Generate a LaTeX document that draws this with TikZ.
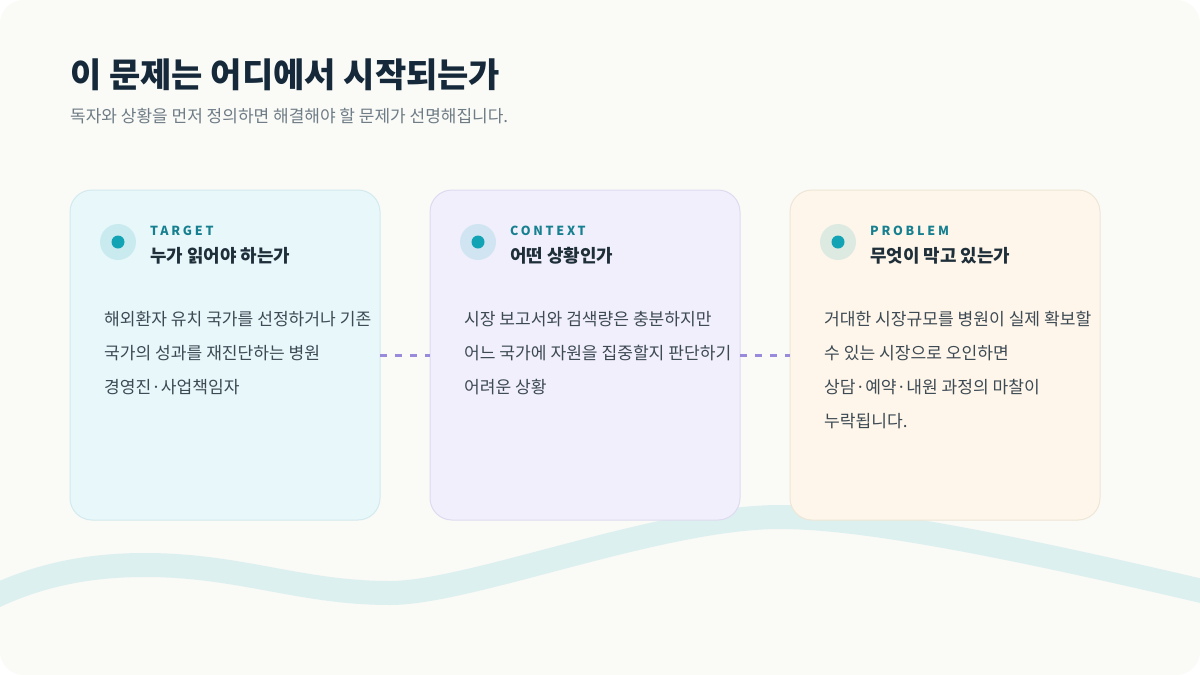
\documentclass[tikz,border=0pt]{standalone}
\usepackage{fontspec}
\setmainfont{Noto Sans CJK KR}
\definecolor{pagebg}{HTML}{FAFAF6}
\definecolor{wavec}{HTML}{DCF0F0}
\definecolor{titlec}{HTML}{15293A}
\definecolor{subc}{HTML}{6E7C86}
\definecolor{tealc}{HTML}{12A4B4}
\definecolor{lblc}{HTML}{168090}
\definecolor{headc}{HTML}{1F2F3A}
\definecolor{bodyc}{HTML}{3D4A54}
\definecolor{connc}{HTML}{9A8ADB}
\definecolor{fillA}{HTML}{E8F7FA}
\definecolor{lineA}{HTML}{D3EAEE}
\definecolor{fillB}{HTML}{F1EFFC}
\definecolor{lineB}{HTML}{DEDBF0}
\definecolor{fillC}{HTML}{FEF6EA}
\definecolor{lineC}{HTML}{EEE6D6}
\tikzset{
  cardbox/.style={draw, line width=1pt, rounded corners=22pt, minimum width=310pt, minimum height=330pt, inner sep=0pt, outer sep=0pt},
  halo/.style={circle, fill=tealc, fill opacity=0.14, minimum size=36pt, inner sep=0pt},
  dot/.style={circle, fill=tealc, minimum size=13pt, inner sep=0pt},
  lbl/.style={anchor=base west, inner sep=0pt, text=lblc, font=\fontsize{12.5pt}{14pt}\selectfont\bfseries\addfontfeatures{LetterSpace=22}},
  head/.style={anchor=base west, inner sep=0pt, text=headc, font=\fontsize{17.9pt}{20pt}\selectfont\bfseries},
  bodyline/.style={anchor=base west, inner sep=0pt, text=bodyc, font=\fontsize{17.1pt}{19pt}\selectfont},
  conn/.style={draw=connc, line width=3pt, dash pattern=on 7pt off 8pt},
  wave/.style={draw=wavec, line width=24pt}
}
\begin{document}
\begin{tikzpicture}[x=1pt,y=-1pt]
\useasboundingbox (0,0) rectangle (1200,675);
\fill[white] (0,0) rectangle (1200,675);
\fill[pagebg, rounded corners=24pt] (0,0) rectangle (1200,675);
\begin{scope}
\clip[rounded corners=24pt] (0,0) rectangle (1200,675);
\draw[wave] (-40,615) .. controls (20,578) and (80,565) .. (145,565)
  .. controls (240,565) and (300,593) .. (390,593)
  .. controls (470,593) and (660,517) .. (780,517)
  .. controls (860,517) and (1000,543) .. (1240,600);
\end{scope}
% title
\node[anchor=base west, inner sep=0pt, text=titlec, font=\fontsize{34pt}{38pt}\selectfont\bfseries] (title) at (70,87.5) {이 문제는 어디에서 시작되는가};
\node[anchor=base west, inner sep=0pt, text=subc, font=\fontsize{17pt}{19pt}\selectfont] (sub) at (70,122) {독자와 상황을 먼저 정의하면 해결해야 할 문제가 선명해집니다.};
% cards
\node[cardbox, fill=fillA, draw=lineA] (c1) at (225,355) {};
\node[cardbox, fill=fillB, draw=lineB] (c2) at (585,355) {};
\node[cardbox, fill=fillC, draw=lineC] (c3) at (945,355) {};
% connectors
\draw[conn] (c1.east) -- (c2.west);
\draw[conn] (c2.east) -- (c3.west);
% card 1
\node[halo] (h1) at (118,242) {};
\node[dot] (d1) at (h1) {};
\node[lbl] (l1) at (150,235.7) {TARGET};
\node[head] (t1) at (150,262.3) {누가 읽어야 하는가};
\node[bodyline] (b11) at (104,325.5) {해외환자 유치 국가를 선정하거나 기존};
\node[bodyline] (b12) at (104,359.5) {국가의 성과를 재진단하는 병원};
\node[bodyline] (b13) at (104,393.5) {경영진·사업책임자};
% card 2
\node[halo] (h2) at (478,242) {};
\node[dot] (d2) at (h2) {};
\node[lbl] (l2) at (510,235.7) {CONTEXT};
\node[head] (t2) at (510,262.3) {어떤 상황인가};
\node[bodyline] (b21) at (464,325.5) {시장 보고서와 검색량은 충분하지만};
\node[bodyline] (b22) at (464,359.5) {어느 국가에 자원을 집중할지 판단하기};
\node[bodyline] (b23) at (464,393.5) {어려운 상황};
% card 3
\node[halo] (h3) at (838,242) {};
\node[dot] (d3) at (h3) {};
\node[lbl] (l3) at (870,235.7) {PROBLEM};
\node[head] (t3) at (870,262.3) {무엇이 막고 있는가};
\node[bodyline] (b31) at (824,325.5) {거대한 시장규모를 병원이 실제 확보할};
\node[bodyline] (b32) at (824,359.5) {수 있는 시장으로 오인하면};
\node[bodyline] (b33) at (824,393.5) {상담·예약·내원 과정의 마찰이};
\node[bodyline] (b34) at (824,427.5) {누락됩니다.};
\end{tikzpicture}
\end{document}
